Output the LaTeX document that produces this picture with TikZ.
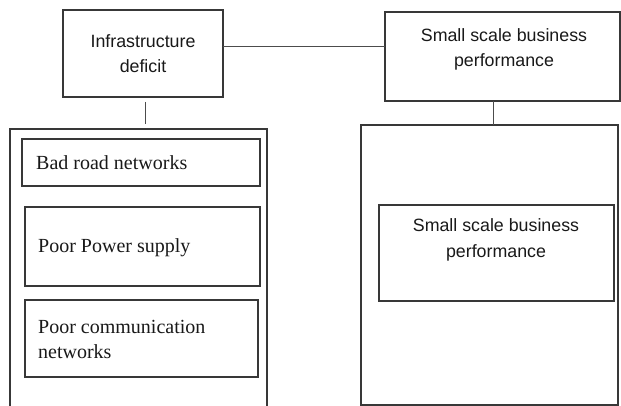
\documentclass[tikz,border=0pt]{standalone}
\usepackage{fontspec}
\setmainfont{Liberation Serif}
\setsansfont{Liberation Sans}
\begin{document}
\begin{tikzpicture}[x=1pt,y=-1pt,
  box/.style={draw=black!78,line width=1.1pt,inner sep=0pt,outer sep=0pt,fill=none},
  link/.style={draw=black!70,line width=0.8pt},
  stxt/.style={font=\sffamily\fontsize{17.8}{25}\selectfont,align=center,inner sep=0pt,text=black!90},
  rtxt/.style={font=\rmfamily\fontsize{20}{25}\selectfont,align=left,inner sep=0pt,text=black!90}]
\clip (0,0) rectangle (621,406);
\fill[white] (0,0) rectangle (621,406);
% top boxes
\node[box,minimum width=160pt,minimum height=87pt] (A) at (143,53.5) {};
\node[box,minimum width=235pt,minimum height=89pt] (B) at (502.5,56.5) {};
% outer boxes
\node[box,minimum width=257pt,minimum height=301pt] (L) at (138.5,279.5) {};
\node[box,minimum width=257pt,minimum height=280pt] (R) at (489.5,265) {};
% inner boxes
\node[box,minimum width=238pt,minimum height=47pt] (road) at (141,162.5) {};
\node[box,minimum width=235pt,minimum height=79pt] (power) at (142.5,246.5) {};
\node[box,minimum width=233pt,minimum height=77pt] (comm) at (141.5,338.5) {};
\node[box,minimum width=235pt,minimum height=96pt] (perf) at (496.5,253) {};
% texts (base anchor = baseline of last line)
\node[stxt,anchor=base] (tA) at (143,73) {Infrastructure\\deficit};
\node[stxt,anchor=base] (tB) at (504,67) {Small scale business\\performance};
\node[stxt,anchor=base] (tP) at (496,257) {Small scale business\\performance};
\node[rtxt,anchor=base west] (tR) at (36,170) {Bad road networks};
\node[rtxt,anchor=base west] (tW) at (38,252) {Poor Power supply};
\node[rtxt,anchor=base west] (tC) at (38,358) {Poor communication\\networks};
% connectors
\coordinate (hy) at (0,46.7);
\draw[link] (A.east |- hy) -- (B.west |- hy);
\coordinate (vx) at (145,0);
\draw[link,shorten <=5pt,shorten >=5pt] (A.south -| vx) -- (L.north -| vx);
\coordinate (vy) at (493,0);
\draw[link] (B.south -| vy) -- (R.north -| vy);
\end{tikzpicture}
\end{document}
